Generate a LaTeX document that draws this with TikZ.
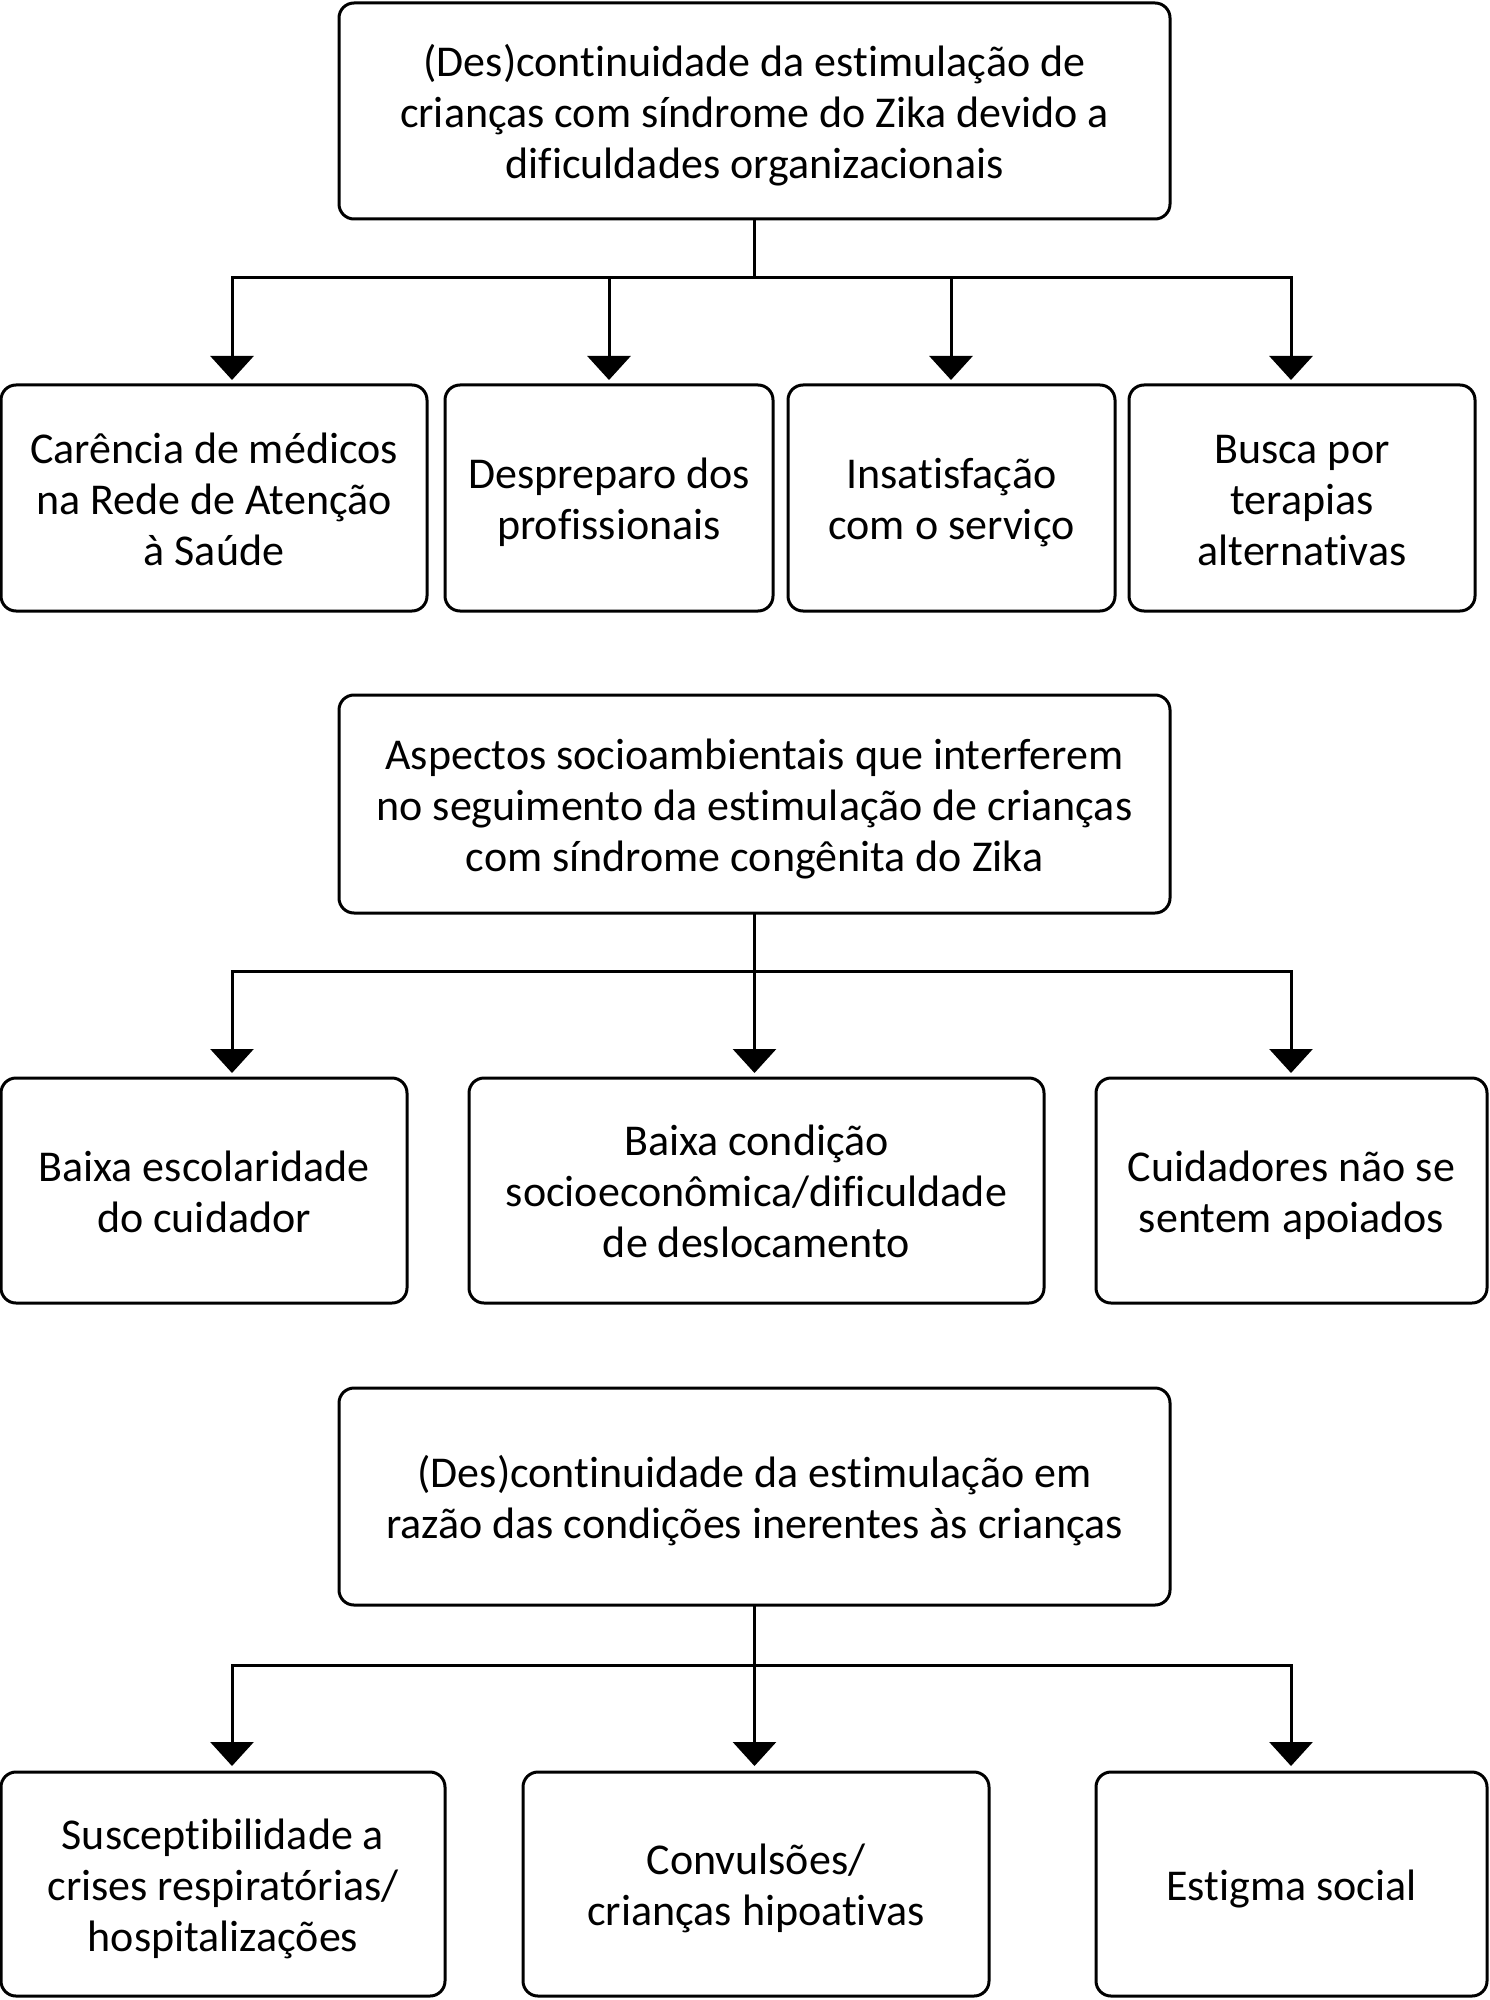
\documentclass[tikz,border=0pt]{standalone}
\usepackage{fontspec}
\setmainfont{Carlito}[Ligatures=NoCommon]
\usetikzlibrary{arrows.meta}
\newcommand{\boxlines}[1]{\raisebox{-3pt}[\height][\depth]{\begin{tabular}{@{}c@{}}#1\end{tabular}}}
\tikzset{
  box/.style={draw, line width=1.5pt, rounded corners=7.5pt, inner sep=0pt, outer sep=0pt,
    font=\fontsize{22}{25.5}\selectfont},
  link/.style={line width=1.5pt},
  arr/.style={line width=1.5pt, -{Triangle[width=21.5pt,length=12pt]}}
}
\begin{document}
\begin{tikzpicture}[x=0.5pt,y=-0.5pt]
\useasboundingbox (0,0) rectangle (1489,2000);
% level 1
\node[box, minimum width=415.5pt, minimum height=108pt] (A) at (754.5,111)
  {\boxlines{(Des)continuidade da estimulação de\\crianças com síndrome do Zika devido a\\dificuldades organizacionais}};
\node[box, minimum width=213pt, minimum height=113pt] (B1) at (214,498)
  {\boxlines{Carência de médicos\\na Rede de Atenção\\à Saúde}};
\node[box, minimum width=164pt, minimum height=113pt] (B2) at (609,498)
  {\boxlines{Despreparo dos\\profissionais}};
\node[box, minimum width=163.5pt, minimum height=113pt] (B3) at (951.5,498)
  {\boxlines{Insatisfação\\com o serviço}};
\node[box, minimum width=173pt, minimum height=113pt] (B4) at (1302,498)
  {\boxlines{Busca por\\terapias\\alternativas}};
\coordinate (jA) at (754.5,278);
\coordinate (tA1) at (232,380);
\coordinate (tA2) at (609,380);
\coordinate (tA3) at (951,380);
\coordinate (tA4) at (1291,380);
\draw[link] (A.south) -- (jA);
\foreach \t in {tA1,tA2,tA3,tA4} \draw[arr] (jA) -| (\t);
% level 2
\node[box, minimum width=415.5pt, minimum height=109pt] (C) at (754.5,804)
  {\boxlines{Aspectos socioambientais que interferem\\no seguimento da estimulação de crianças\\com síndrome congênita do Zika}};
\node[box, minimum width=203pt, minimum height=112.5pt] (D1) at (204,1190.5)
  {\boxlines{Baixa escolaridade\\do cuidador}};
\node[box, minimum width=287.5pt, minimum height=112.5pt] (D2) at (756.5,1190.5)
  {\boxlines{Baixa condição\\socioeconômica/dificuldade\\de deslocamento}};
\node[box, minimum width=195.5pt, minimum height=112.5pt] (D3) at (1291.5,1190.5)
  {\boxlines{Cuidadores não se\\sentem apoiados}};
\coordinate (jC) at (754.5,971);
\coordinate (tC1) at (232,1073);
\coordinate (tC2) at (754.5,1073);
\coordinate (tC3) at (1291,1073);
\draw[link] (C.south) -- (jC);
\foreach \t in {tC1,tC2,tC3} \draw[arr] (jC) -| (\t);
% level 3
\node[box, minimum width=415.5pt, minimum height=108.5pt] (E) at (754.5,1496.5)
  {\boxlines{(Des)continuidade da estimulação em\\razão das condições inerentes às crianças}};
\node[box, minimum width=222pt, minimum height=112pt] (F1) at (223,1884)
  {\boxlines{Susceptibilidade a\\crises respiratórias/\\hospitalizações}};
\node[box, minimum width=233pt, minimum height=112pt] (F2) at (756,1884)
  {\boxlines{Convulsões/\\crianças hipoativas}};
\node[box, minimum width=195.5pt, minimum height=112pt] (F3) at (1291.5,1884)
  {\boxlines{Estigma social}};
\coordinate (jE) at (754.5,1665);
\coordinate (tE1) at (232,1766);
\coordinate (tE2) at (754.5,1766);
\coordinate (tE3) at (1291,1766);
\draw[link] (E.south) -- (jE);
\foreach \t in {tE1,tE2,tE3} \draw[arr] (jE) -| (\t);
\end{tikzpicture}
\end{document}
